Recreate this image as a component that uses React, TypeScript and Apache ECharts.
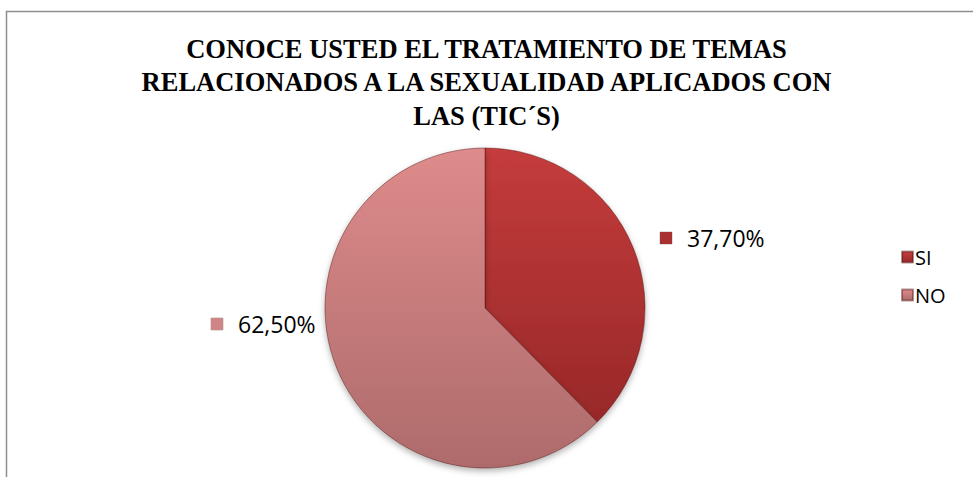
import React, { useEffect, useRef } from "react";
import * as echarts from "echarts";

const categories = ["SI", "NO"];
const values = [37.7, 62.5];
const titleLines = [
  "CONOCE USTED EL TRATAMIENTO DE TEMAS",
  "RELACIONADOS A LA SEXUALIDAD APLICADOS CON",
  "LAS (TIC´S)",
];

const topColors = ["#c53c3c", "#de8b8b"];
const bottomColors = ["#982828", "#ae6b6b"];
const markerColors = ["#a93030", "#cf8585"];

const fmt = (v: number) => v.toFixed(2).replace(".", ",") + "%";

export default function App() {
  const ref = useRef<HTMLDivElement>(null);
  useEffect(() => {
    document.body.style.margin = "0";
    if (!ref.current) return;
    const chart = echarts.init(ref.current, null, { renderer: "svg" });
    const labelPos = [
      { x: 660, y: 238 },
      { x: 211, y: 324 },
    ];
    chart.setOption({
      animation: false,
      backgroundColor: "#ffffff",
      title: {
        text: titleLines.join("\n"),
        left: "center",
        top: 27,
        textStyle: {
          fontFamily: "Liberation Serif",
          fontWeight: "bold",
          fontSize: 26.5,
          lineHeight: 33.5,
          color: "#000000",
        },
      },
      graphic: [
        {
          type: "rect",
          shape: { x: 6.5, y: 11.5, width: 1000, height: 600 },
          style: { fill: "none", stroke: "#8e8e8e", lineWidth: 1.5 },
          silent: true,
        },
      ],
      legend: {
        orient: "vertical",
        left: 896,
        top: 242,
        itemWidth: 11,
        itemHeight: 11,
        itemGap: 18,
        icon: "rect",
        data: categories,
        textStyle: {
          fontFamily: "Open Sans",
          fontSize: 20,
          color: "#000",
          padding: [0, 0, 0, -3],
        },
      },
      series: [
        {
          type: "pie",
          center: [485, 308],
          radius: 160,
          startAngle: 90,
          clockwise: true,
          label: {
            show: true,
            position: "outside",
            formatter: (p: any) => "{m|}{v|" + fmt(p.value) + "}",
            rich: {
              m: {
                width: 12,
                height: 12,
                backgroundColor: "inherit",
                borderColor: "rgba(0,0,0,0.25)",
                borderWidth: 0.5,
              },
              v: {
                fontFamily: "Open Sans",
                fontSize: 23,
                color: "#000",
                padding: [0, 0, 0, 15],
              },
            },
          },
          labelLine: { show: false },
          labelLayout: (params: any) => ({
            x: labelPos[params.dataIndex].x,
            y: labelPos[params.dataIndex].y,
            align: "left",
            verticalAlign: "middle",
          }),
          itemStyle: {
            borderColor: "rgba(80,20,20,0.45)",
            borderWidth: 1,
            shadowBlur: 6,
            shadowOffsetY: 3,
            shadowColor: "rgba(0,0,0,0.3)",
          },
          emphasis: { disabled: true },
          data: categories.map((c, i) => ({
            name: c,
            value: values[i],
            itemStyle: {
              color: new echarts.graphic.LinearGradient(0, 0, 0, 1, [
                { offset: 0, color: topColors[i] },
                { offset: 1, color: bottomColors[i] },
              ]),
            },
            label: {
              rich: {
                m: { backgroundColor: markerColors[i] },
              },
            },
          })),
        },
      ],
    });
    return () => chart.dispose();
  }, []);
  return <div ref={ref} style={{ width: 973, height: 477 }} />;
}
